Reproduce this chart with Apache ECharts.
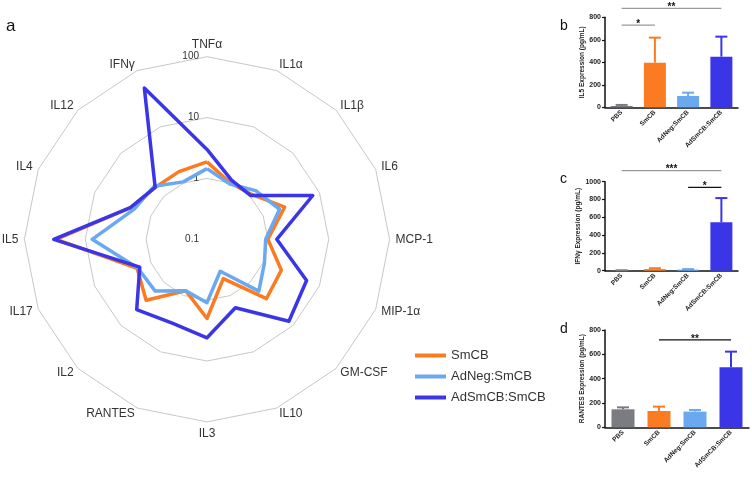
<!DOCTYPE html>
<html><head><meta charset="utf-8">
<script src="https://cdn.jsdelivr.net/npm/echarts@6/dist/echarts.min.js"></script>
<style>html,body{margin:0;padding:0;background:#fff}#c{width:752px;height:478px}</style>
</head><body><div id="c"></div>
<script>
// ---------- data ----------
const cytokines = ['TNFα','IL1α','IL1β','IL6','MCP-1','MIP-1α','GM-CSF','IL10','IL3','RANTES','IL2','IL17','IL5','IL4','IL12','IFNγ'];
const radarTicks = ['0.1','1','10','100'];
const seriesNames = ['SmCB','AdNeg:SmCB','AdSmCB:SmCB'];
const smcb   = [1.87,1.00,1.10,2.40,1.00,2.10,2.40,0.50,2.00,0.82,2.60,1.75,30,2.30,1.60,1.60];
const adneg  = [1.45,0.96,1.35,1.95,0.92,1.05,1.60,0.37,1.10,0.82,1.60,1.70,7.7,1.97,1.70,1.05];
const adsmcb = [3.00,1.13,1.04,7.60,1.40,5.90,8.00,1.65,4.15,3.10,4.30,1.57,33,2.30,1.60,49];

const groups = ['PBS','SmCB','AdNeg:SmCB','AdSmCB:SmCB'];
const il5Mean = [12,397,101,450];
const il5Err  = [9,222,29,178];
const ifnMean = [3,18,12,543];
const ifnErr  = [2,10,6,273];
const rantesMean = [148,134,129,493];
const rantesErr  = [16,36,13,129];
const il5Sig    = [[0,1,730,'*'],[0,3,880,'**']];
const ifnSig    = [[0,3,1124,'***'],[2,3,937,'*']];
const rantesSig = [[1,3,718,'**']];

// ---------- styles ----------
const lineColors = ['#fa7b22','#6aa8f0','#3a36e8'];
const barColors  = ['#7b7b82','#fa7b22','#6aa8f0','#3a36e8'];
const sigColors  = [['#9a9a9a','#9a9a9a'],['#9a9a9a','#111'],['#111']];
const FONT = 'Liberation Sans';

const chart = echarts.init(document.getElementById('c'), null, {renderer:'canvas'});

// ECharts radar runs counter-clockwise; reorder so the axes run clockwise from the top
const order = [0].concat(cytokines.map((_,i)=>i).slice(1).reverse());
const reorder = arr => order.map(i => arr[i]);
const toLog = arr => reorder(arr).map(v => Math.log10(v) + 1);

const grids = [
  {left:605, top:17.3, width:133, height:90},
  {left:605, top:181.7, width:133, height:89},
  {left:605, top:330, width:144, height:97.3}
];
const yMax = [800, 1000, 800];
const yNames = ['IL5 Expression (pg/mL)','IFNγ Expression (pg/mL)','RANTES Expression (pg/mL)'];
const means = [il5Mean, ifnMean, rantesMean];
const errs = [il5Err, ifnErr, rantesErr];
const sigs = [il5Sig, ifnSig, rantesSig];
const barW = [22, 22, 23];

const xAxes = grids.map((g,i)=>({
  type:'category', gridIndex:i, data:groups,
  axisLine:{lineStyle:{color:'#111', width:1.5}},
  axisTick:{alignWithLabel:true, length:3, lineStyle:{color:'#111', width:1.2}},
  axisLabel:{rotate:45, fontSize:6.5, fontWeight:'bold', color:'#222', margin:4, fontFamily:FONT, interval:0}
}));
const yAxes = grids.map((g,i)=>({
  type:'value', gridIndex:i, min:0, max:yMax[i], interval:200,
  name:yNames[i], nameLocation:'middle', nameRotate:90, nameGap:17,
  nameTextStyle:{fontSize:6.5, fontWeight:'bold', color:'#222', fontFamily:FONT},
  axisLine:{show:true, lineStyle:{color:'#111', width:1.5}},
  axisTick:{show:true, length:3, lineStyle:{color:'#111', width:1.2}},
  axisLabel:{fontSize:7, fontWeight:'bold', color:'#222', margin:4, fontFamily:FONT, formatter:v=>String(v)},
  splitLine:{show:false}
}));

const series = [];
series.push({
  type:'radar', symbol:'none',
  data: [smcb, adneg, adsmcb].map((arr,i)=>({
    name: seriesNames[i], value: toLog(arr),
    lineStyle:{color:lineColors[i], width:3.5},
    itemStyle:{color:lineColors[i]}
  }))
});
grids.forEach((g,i)=>{
  series.push({
    type:'bar', xAxisIndex:i, yAxisIndex:i, barWidth:barW[i],
    data: means[i].map((v,j)=>({value:v, itemStyle:{color:barColors[j]}})),
    z:2
  });
  series.push({
    type:'custom', xAxisIndex:i, yAxisIndex:i, z:1,
    data: means[i].map((v,j)=>[j, v, errs[i][j]]),
    renderItem:(params, api)=>{
      const j = api.value(0);
      const p0 = api.coord([j, api.value(1)]);
      const p1 = api.coord([j, api.value(1) + api.value(2)]);
      const c = barColors[j];
      return {type:'group', children:[
        {type:'line', shape:{x1:p0[0], y1:p0[1], x2:p1[0], y2:p1[1]}, style:{stroke:c, lineWidth:2}},
        {type:'line', shape:{x1:p1[0]-6, y1:p1[1], x2:p1[0]+6, y2:p1[1]}, style:{stroke:c, lineWidth:2}}
      ]};
    }
  });
  series.push({
    type:'custom', xAxisIndex:i, yAxisIndex:i, clip:false, z:3,
    data: sigs[i].map(s=>[s[0], s[1], s[2]]),
    renderItem:(params, api)=>{
      const k = params.dataIndex;
      const a = api.coord([api.value(0), api.value(2)]);
      const b = api.coord([api.value(1), api.value(2)]);
      const col = sigColors[i][k];
      return {type:'group', children:[
        {type:'line', shape:{x1:a[0], y1:a[1], x2:b[0], y2:b[1]}, style:{stroke:col, lineWidth:1.3}},
        {type:'text', style:{text:sigs[i][k][3], x:(a[0]+b[0])/2, y:a[1]+4, align:'center', verticalAlign:'bottom', fontSize:10, fontWeight:'bold', fill:'#111', fontFamily:FONT}}
      ]};
    }
  });
});

chart.setOption({
  animation:false,
  backgroundColor:'#fff',
  title:[
    {text:'a', left:1, top:13, textStyle:{fontSize:17, fontWeight:'normal', color:'#111', fontFamily:FONT}},
    {text:'b', left:555, top:14, textStyle:{fontSize:14, fontWeight:'normal', color:'#111', fontFamily:FONT}},
    {text:'c', left:555, top:167, textStyle:{fontSize:14, fontWeight:'normal', color:'#111', fontFamily:FONT}},
    {text:'d', left:555, top:317, textStyle:{fontSize:14, fontWeight:'normal', color:'#111', fontFamily:FONT}}
  ],
  legend:{
    orient:'vertical', left:410, top:344, itemWidth:31, itemHeight:4, itemGap:8, icon:'rect',
    data:seriesNames,
    textStyle:{fontSize:13, color:'#333', fontFamily:FONT}
  },
  radar:{
    center:[207,239.3], radius:182.6, startAngle:90, splitNumber:3, shape:'polygon',
    indicator: reorder(cytokines).map((n,i)=> i===0 ? {name:n, min:0, max:3, axisLabel:{show:true}} : {name:n, min:0, max:3}),
    axisName:{color:'#333', fontSize:12, fontFamily:FONT},
    nameGap:6,
    splitLine:{lineStyle:{color:'#c8c8c8', width:1}},
    splitArea:{show:false},
    axisLine:{show:false},
    axisTick:{show:false},
    axisLabel:{show:false, fontSize:10, color:'#333', fontFamily:FONT, formatter:v=>radarTicks[Math.round(v)]}
  },
  grid:grids,
  xAxis:xAxes,
  yAxis:yAxes,
  series:series
});
</script>
</body></html>
